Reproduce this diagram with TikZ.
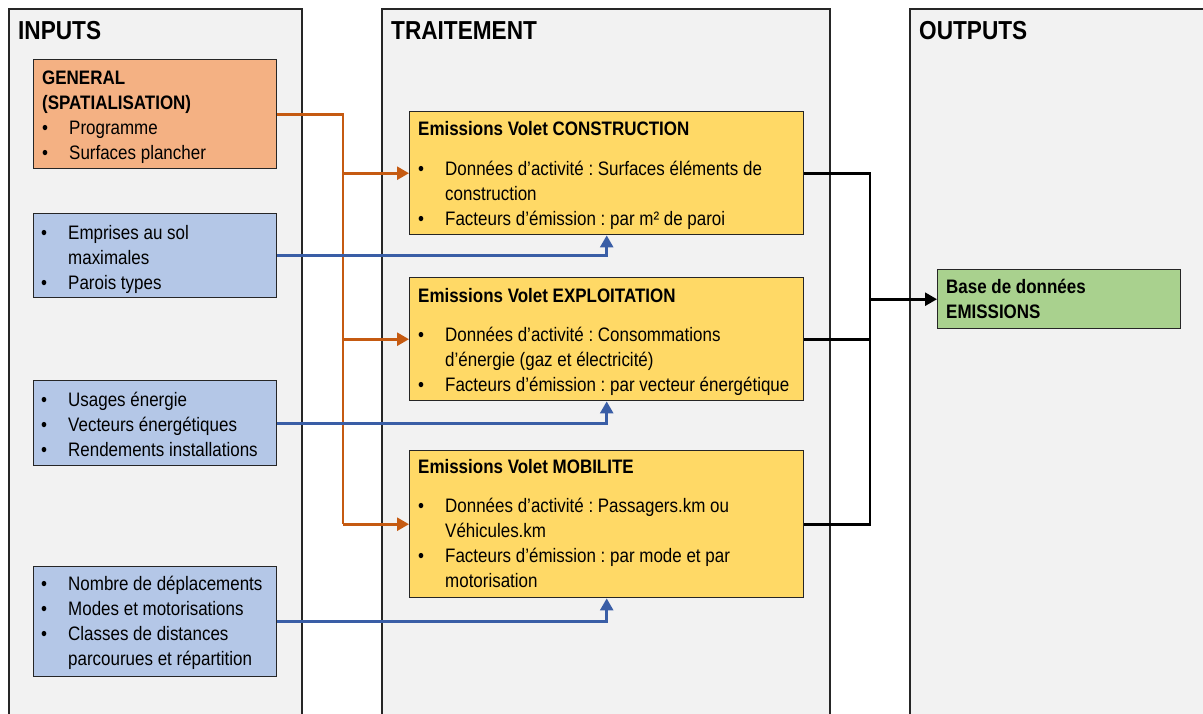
\documentclass[tikz,border=0pt]{standalone}
\usepackage{fontspec}
\setmainfont[FakeStretch=0.87]{Liberation Sans}
\usetikzlibrary{arrows.meta,calc}
\definecolor{panelfill}{HTML}{F2F2F2}
\definecolor{genfill}{HTML}{F4B183}
\definecolor{bluefill}{HTML}{B4C7E7}
\definecolor{yelfill}{HTML}{FFD966}
\definecolor{greenfill}{HTML}{A9D18E}
\definecolor{orline}{HTML}{C55A11}
\definecolor{blline}{HTML}{3A5EA6}
\newcommand\bodyfnt{\fontsize{19.5}{25}\selectfont}
\newcommand\bl{\makebox[27pt][l]{•}}
\newcommand\ind{\hspace*{27pt}}
\frenchspacing
\begin{document}
\begin{tikzpicture}[x=1pt,y=-1pt,
  panel/.style={draw=black!85, line width=1.4pt, fill=panelfill},
  ptitle/.style={anchor=base west, inner sep=0pt, font=\fontsize{26}{30}\selectfont\bfseries},
  boxstyle/.style={draw=black!85, line width=1.4pt, anchor=north west, inner sep=0pt},
  txt/.style={anchor=base west, inner sep=0pt, font=\bodyfnt\frenchspacing},
  orarrow/.style={draw=orline, line width=2.6pt, -{Triangle[length=12pt,width=13pt]}},
  orline/.style={draw=orline, line width=2.6pt},
  blarrow/.style={draw=blline, line width=2.6pt, -{Triangle[length=12pt,width=13pt]}},
  bkline/.style={draw=black, line width=2.6pt},
  bkarrow/.style={draw=black, line width=2.6pt, -{Triangle[length=12pt,width=13pt]}}
]
\clip (0,0) rectangle (1203,713);
\fill[white] (0,0) rectangle (1203,713);
% panels
\path[panel] (9,9) rectangle (302,730);
\path[panel] (382,9) rectangle (830,730);
\path[panel] (910,9) rectangle (1220,730);
\node[ptitle] (tin) at (18,39) {INPUTS};
\node[ptitle] (ttr) at (391,39) {TRAITEMENT};
\node[ptitle] (tout) at (919,39) {OUTPUTS};
% input boxes
\node[boxstyle, fill=genfill, minimum width=243pt, minimum height=109pt] (gen) at (33,59) {};
\node[boxstyle, fill=bluefill, minimum width=243pt, minimum height=84pt] (b1) at (33,213) {};
\node[boxstyle, fill=bluefill, minimum width=243pt, minimum height=85pt] (b2) at (33,380) {};
\node[boxstyle, fill=bluefill, minimum width=243pt, minimum height=110pt] (b3) at (33,566) {};
% processing boxes
\node[boxstyle, fill=yelfill, minimum width=394pt, minimum height=123pt] (y1) at (409,111) {};
\node[boxstyle, fill=yelfill, minimum width=394pt, minimum height=123pt] (y2) at (409,277) {};
\node[boxstyle, fill=yelfill, minimum width=394pt, minimum height=147pt] (y3) at (409,450) {};
% output
\node[boxstyle, fill=greenfill, minimum width=243pt, minimum height=59pt] (g) at (937,269) {};
% texts
\node[txt] (gent) at (42,84) {\begin{tabular}[t]{@{}l@{}}\textbf{GENERAL}\\\textbf{(SPATIALISATION)}\\\bl Programme\\\bl Surfaces plancher\end{tabular}};
\node[txt] (b1t) at (41,239) {\begin{tabular}[t]{@{}l@{}}\bl Emprises au sol\\\ind maximales\\\bl Parois types\end{tabular}};
\node[txt] (b2t) at (41,406) {\begin{tabular}[t]{@{}l@{}}\bl Usages énergie\\\bl Vecteurs énergétiques\\\bl Rendements installations\end{tabular}};
\node[txt] (b3t) at (41,590) {\begin{tabular}[t]{@{}l@{}}\bl Nombre de déplacements\\\bl Modes et motorisations\\\bl Classes de distances\\\ind parcourues et répartition\end{tabular}};
\node[txt] (y1t) at (418,135) {\begin{tabular}[t]{@{}l@{}}\textbf{Emissions Volet CONSTRUCTION}\\[15pt]\bl Données d’activité : Surfaces éléments de\\\ind construction\\\bl Facteurs d’émission : par m² de paroi\end{tabular}};
\node[txt] (y2t) at (418,302) {\begin{tabular}[t]{@{}l@{}}\textbf{Emissions Volet EXPLOITATION}\\[14pt]\bl Données d’activité : Consommations\\\ind d’énergie (gaz et électricité)\\\bl Facteurs d’émission : par vecteur énergétique\end{tabular}};
\node[txt] (y3t) at (418,473) {\begin{tabular}[t]{@{}l@{}}\textbf{Emissions Volet MOBILITE}\\[14pt]\bl Données d’activité : Passagers.km ou\\\ind Véhicules.km\\\bl Facteurs d’émission : par mode et par\\\ind motorisation\end{tabular}};
\node[txt] (gt) at (946,293) {\begin{tabular}[t]{@{}l@{}}\textbf{Base de données}\\\textbf{EMISSIONS}\end{tabular}};
% orange connectors
\coordinate (ot) at (343,0);
\draw[orline] (gen.east) -| (ot |- y3.west);
\draw[orarrow] (ot |- y1.west) -- (y1.west);
\draw[orarrow] (ot |- y2.west) -- (y2.west);
\draw[orarrow] (ot |- y3.west) -- (y3.west);
% blue connectors
\draw[blarrow] (b1.east) -| (y1.south);
\draw[blarrow] (b2.east) -| (y2.south);
\draw[blarrow] (b3.east) -| (y3.south);
% black connectors
\coordinate (bt) at (870,0);
\draw[bkline] (y1.east) -- (bt |- y1.east) -- (bt |- y3.east) -- (y3.east);
\draw[bkline] (y2.east) -- (bt |- y2.east);
\draw[bkarrow] (bt |- g.west) -- (g.west);
\end{tikzpicture}
\end{document}
